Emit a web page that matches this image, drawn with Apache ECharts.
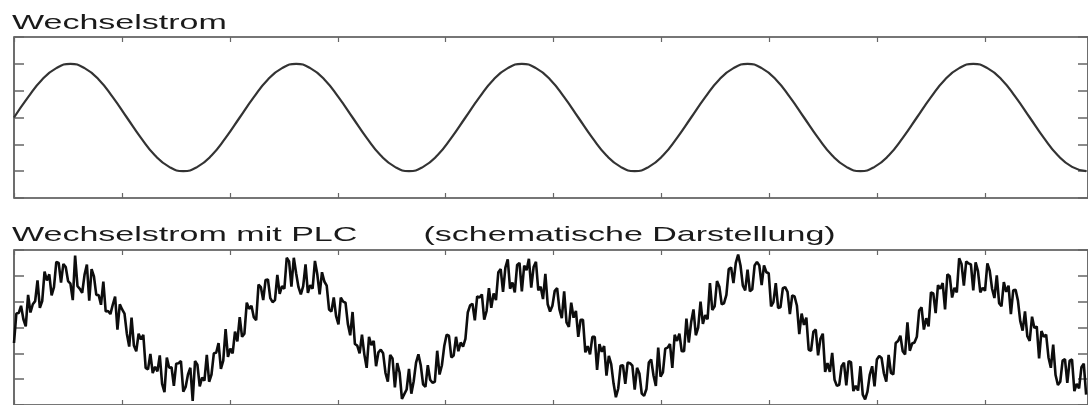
<!DOCTYPE html>
<html>
<head>
<meta charset="utf-8">
<script src="https://cdn.jsdelivr.net/npm/echarts@6/dist/echarts.min.js"></script>
<style>
html,body{margin:0;padding:0;background:#fff;}
#chart{width:1088px;height:405px;}
</style>
</head>
<body>
<div id="chart"></div>
<script>
// Titles
const titleTop = 'Wechselstrom';
const titleBottom = 'Wechselstrom mit PLC       (schematische Darstellung)';

// Y ticks (both panels)
const yMin = -1.5, yMax = 1.5, yStep = 0.5;

// Top panel: clean AC wave, 16 samples per period (x = sample index)
const topMax = 76.13, topTickStep = 7.65;
const topValues = [
  0, .38, .71, .92, 1, .92, .71, .38, 0, -.38, -.71, -.92, -1, -.92, -.71, -.38,
  0, .38, .71, .92, 1, .92, .71, .38, 0, -.38, -.71, -.92, -1, -.92, -.71, -.38,
  0, .38, .71, .92, 1, .92, .71, .38, 0, -.38, -.71, -.92, -1, -.92, -.71, -.38,
  0, .38, .71, .92, 1, .92, .71, .38, 0, -.38, -.71, -.92, -1, -.92, -.71, -.38,
  0, .38, .71, .92, 1, .92, .71, .38, 0, -.38, -.71, -.92, -1
];

// Bottom panel: AC wave with PLC signal, 96 samples per period (x = sample index)
const botMax = 456.8, botTickStep = 45.9;
const plcValues = [
  -.30,.27, .28,.42, .16,.02, .63,.29, .45,.51, .91,.38, .51,1.08, .91,1.03,
  .62,.78, 1.27,1.25, .87,1.23, 1.17,.90, .85,.53, 1.39,.80, .75,.67, 1.02,1.22,
  .52,1.13, .99,.63, .63,.44, .89,.31, .32,.26, .44,.60, -.04,.45, .35,.27,
  -.12,-.37, .19,-.35, -.46,-.12, -.23,-.14, -.78,-.81, -.51,-.88, -.76,-.85, -.54,-1.09,
  -1.25,-.58, -.78,-.77, -1.13,-.70, -.69,-.65, -1.24,-1.15, -.91,-.78, -1.42,-.65, -.72,-1.14,
  -.97,-1.03, -.53,-1.05, -.91,-.50, -.49,-.30, -.80,-.64, -.03,-.57, -.41,-.50, -.08,-.27,

  .20,-.18, -.12,.48, .36,.42, .20,.14, .83,.78, .53,.92, .93,.57, .49,.53,
  1.02,.65, .80,.75, 1.35,1.28, .79,1.35, 1.05,.78, .64,.80, 1.22,.67, .82,.75,
  1.29,1.03, .64,1.07, .89,.81, .35,.31, .58,.22, .06,.58, .50,.48, .07,-.15,
  .30,-.32, -.35,-.50, -.14,-.52, -.78,-.18, -.34,-.26, -.75,-.48, -.43,-.50, -.88,-1.05,
  -.53,-.60, -1.16,-.69, -.87,-1.38, -1.29,-1.20, -.80,-1.28, -1.04,-.68, -.52,-.73, -1.10,-1.15,
  -.73,-1.01, -1.07,-1.05, -.45,-.91, -.73,-.36, -.14,-.16, -.58,-.54, -.18,-.46, -.29,-.37,

  -.22,.29, .43,.46, .14,.60, .58,.64, .15,.32, .76,.38, .66,.53, 1.07,1.13,
  .69,1.16, 1.32,.75, .87,.68, 1.21,1.25, .70,1.20, 1.11,1.33, .77,1.17, 1.27,.72,
  .79,.55, 1.04,.45, .31,.42, .71,.76, .35,.18, .70,.10, .01,.48, .19,.32,
  -.18,.15, .15,-.48, -.36,-.52, -.18,-.18, -.82,-.32, -.47,-.36, -.93,-.55, -.71,-1.08,
  -1.35,-1.18, -.74,-.73, -1.09,-.68, -.69,-.74, -1.20,-.78, -.89,-1.28, -1.32,-1.19, -.68,-.62,
  -.93,-1.13, -.39,-.95, -.87,-.41, -.39,-.32, -.78,-.14, -.26,-.12, -.46,-.46, .17,-.29,

  .10,.35, -.15,.00, .50,.07, .24,.16, .86,.34, .41,.90, .79,.45, .47,.63,
  1.13,1.16, .86,1.25, 1.41,1.20, .81,.72, 1.12,.70, .74,1.20, 1.27,1.20, .82,1.20,
  1.07,1.05, .41,.49, .86,.38, .39,.76, .78,.69, .26,.62, .60,.42, -.13,.27,
  .05,.19, -.43,-.45, -.08,-.04, -.54,-.22, -.12,-.86, -.69,-.86, -.49,-1.01, -1.13,-1.11,
  -.75,-.68, -1.12,-.65, -.67,-1.23, -1.13,-1.22, -.75,-1.30, -1.39,-1.24, -.91,-.75, -1.14,-.62,
  -.55,-.59, -.89,-1.05, -.53,-.88, -.91,-.30, -.26,-.16, -.46,-.52, .10,-.45, -.31,-.29,

  -.18,.33, .39,-.04, .18,.02, .68,.66, .28,.82, .75,.86, .35,1.03, .99,.58,
  .77,.68, 1.34,1.23, .81,1.28, 1.24,1.22, .72,1.26, 1.09,.68, .77,.71, 1.24,1.10,
  .75,.57, 1.01,.47, .41,.88, .69,.81, .26,.72, .73,.52, .12,-.06, .31,-.17,
  -.26,.21, -.01,.02, -.60,-.07, -.18,-.14, -.58,-.78, -.33,-.92, -1.11,-1.05, -.64,-.61,
  -1.07,-.64, -.62,-1.23, -1.09,-1.18, -.77,-.70, -1.30
];

const topData = topValues.map((v, i) => [i, v]);
const plcData = plcValues.map((v, i) => [i, v]);

const frame = '#4a4a4a';
const tickColor = '#666';

function xAx(grid, pos, max, step) {
  return {
    gridIndex: grid, type: 'value', position: pos, min: 0, max: max, interval: step,
    axisLine: { show: false, onZero: false },
    axisTick: { show: true, inside: true, length: 5, lineStyle: { color: tickColor, width: 1.2 } },
    axisLabel: { show: false }, splitLine: { show: false }
  };
}
function yAx(grid, pos) {
  return {
    gridIndex: grid, type: 'value', position: pos, min: yMin, max: yMax, interval: yStep,
    axisLine: { show: false, onZero: false },
    axisTick: { show: true, inside: true, length: 10, lineStyle: { color: tickColor, width: 1.5 } },
    axisLabel: { show: false }, splitLine: { show: false }
  };
}

const font = '21px "Liberation Sans", Arial, Helvetica, sans-serif';

const chart = echarts.init(document.getElementById('chart'), null, { renderer: 'canvas' });
chart.setOption({
  animation: false,
  backgroundColor: '#fff',
  grid: [
    { left: 14, top: 37, width: 1081, height: 161, show: true, borderColor: frame, borderWidth: 1.6 },
    { left: 14, top: 250, width: 1081, height: 161, show: true, borderColor: frame, borderWidth: 1.6 }
  ],
  xAxis: [
    xAx(0, 'bottom', topMax, topTickStep),
    xAx(0, 'top', topMax, topTickStep),
    xAx(1, 'bottom', botMax, botTickStep),
    xAx(1, 'top', botMax, botTickStep)
  ],
  yAxis: [
    yAx(0, 'left'), yAx(0, 'right'), yAx(1, 'left'), yAx(1, 'right')
  ],
  graphic: [
    { type: 'text', x: 12, y: 23, scaleX: 1.62, style: { text: titleTop, font: font, fill: '#1a1a1a', align: 'left', verticalAlign: 'middle', textAlign: 'left', textVerticalAlign: 'middle' } },
    { type: 'text', x: 12, y: 235, scaleX: 1.62, style: { text: titleBottom, font: font, fill: '#1a1a1a', align: 'left', verticalAlign: 'middle', textAlign: 'left', textVerticalAlign: 'middle' } }
  ],
  series: [
    { type: 'line', xAxisIndex: 0, yAxisIndex: 0, data: topData, showSymbol: false, smooth: true,
      lineStyle: { color: '#333', width: 2.2 }, silent: true },
    { type: 'line', xAxisIndex: 2, yAxisIndex: 2, data: plcData, showSymbol: false, smooth: false,
      lineStyle: { color: '#0d0d0d', width: 2.6 }, silent: true }
  ]
});
</script>
</body>
</html>
